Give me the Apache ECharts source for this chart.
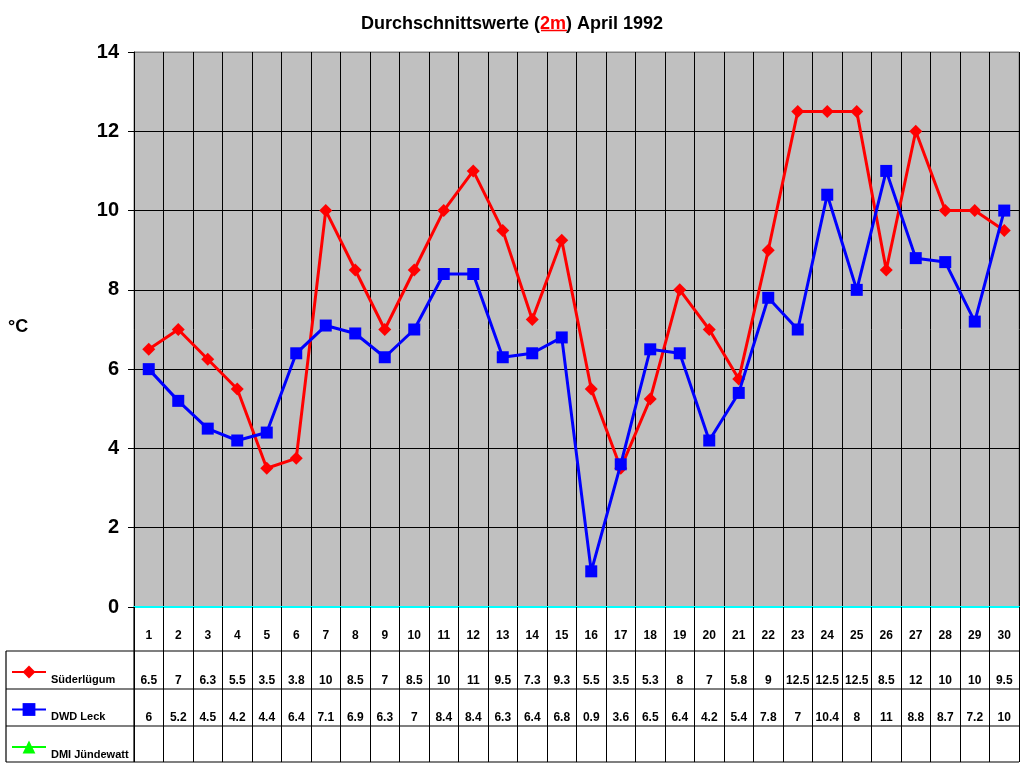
<!DOCTYPE html>
<html>
<head>
<meta charset="utf-8">
<script src="https://cdn.jsdelivr.net/npm/echarts@6/dist/echarts.min.js"></script>
<style>
  html, body { margin: 0; padding: 0; background: #fff; }
  #chart { width: 1024px; height: 768px; }
</style>
</head>
<body>
<div id="chart"></div>
<script>
// days of April 1992
var days = [];
for (var d = 1; d <= 30; d++) days.push(String(d));

var seriesNames = ['Süderlügum', 'DWD Leck', 'DMI Jündewatt'];

// daily means 2m (°C)
var suederluegum = [6.5, 7, 6.25, 5.5, 3.5, 3.75, 10, 8.5, 7, 8.5,
                    10, 11, 9.5, 7.25, 9.25, 5.5, 3.5, 5.25, 8, 7,
                    5.75, 9, 12.5, 12.5, 12.5, 8.5, 12, 10, 10, 9.5];
var dwdLeck = [6, 5.2, 4.5, 4.2, 4.4, 6.4, 7.1, 6.9, 6.3, 7,
               8.4, 8.4, 6.3, 6.4, 6.8, 0.9, 3.6, 6.5, 6.4, 4.2,
               5.4, 7.8, 7, 10.4, 8, 11, 8.8, 8.7, 7.2, 10];
var dmiJuendewatt = [];

function fmt(v) {
    if (v == null) return ' ';
    return String(parseFloat(v.toFixed(1)));
}

var chart = echarts.init(document.getElementById('chart'));

var option = {
    animation: false,
    title: {
        text: '{a|Durchschnittswerte (}{r|2m}{a|) April 1992}',
        left: 'center',
        top: 10,
        textStyle: {
            rich: {
                a: { fontFamily: 'Arial', fontWeight: 'bold', fontSize: 18, color: '#000' },
                r: { fontFamily: 'Arial', fontWeight: 'bold', fontSize: 18, color: '#ff0000' }
            }
        }
    },
    legend: {
        orient: 'vertical',
        left: 11,
        top: 657,
        padding: 0,
        itemGap: 7.5,
        itemWidth: 34,
        itemHeight: 16,
        data: seriesNames,
        // blank first line pushes the name below the icon, like the table legend
        formatter: function (name) { return ' \n' + name; },
        textStyle: {
            fontFamily: 'Arial',
            fontWeight: 'bold',
            fontSize: 11,
            lineHeight: 15,
            color: '#000'
        }
    },
    grid: {
        left: 134,
        right: 5,
        top: 52,
        bottom: 161,
        show: true,
        backgroundColor: '#c0c0c0',
        borderColor: '#808080',
        borderWidth: 1
    },
    xAxis: {
        type: 'category',
        data: days,
        boundaryGap: true,
        axisLine: { show: true, lineStyle: { color: '#00ffff', width: 2 } },
        axisTick: {
            show: true,
            interval: 0,
            length: 155,
            lineStyle: { color: '#000', width: 1 }
        },
        splitLine: {
            show: true,
            interval: 0,
            lineStyle: { color: '#000', width: 1 }
        },
        axisLabel: {
            interval: 0,
            margin: 8,
            verticalAlign: 'top',
            formatter: function (val, idx) {
                return '{d|' + val + '}\n{s|' + fmt(suederluegum[idx]) + '}\n{l|' + fmt(dwdLeck[idx]) + '}';
            },
            rich: {
                d: { fontFamily: 'Arial', fontWeight: 'bold', fontSize: 12, color: '#000', lineHeight: 42 },
                s: { fontFamily: 'Arial', fontWeight: 'bold', fontSize: 12, color: '#000', lineHeight: 48 },
                l: { fontFamily: 'Arial', fontWeight: 'bold', fontSize: 12, color: '#000', lineHeight: 26 }
            }
        }
    },
    yAxis: {
        type: 'value',
        min: 0,
        max: 14,
        interval: 2,
        axisLine: { show: true, lineStyle: { color: '#000', width: 1 } },
        axisTick: { show: true, length: 6, lineStyle: { color: '#000' } },
        splitLine: {
            show: true,
            lineStyle: {
                color: ['#000', '#000', '#000', '#000', '#000', '#000', '#000', '#808080'],
                width: 1
            }
        },
        axisLabel: {
            margin: 15,
            fontFamily: 'Arial',
            fontWeight: 'bold',
            fontSize: 20,
            color: '#000'
        }
    },
    graphic: [
        {
            type: 'text',
            left: 8,
            top: 318,
            style: { text: '°C', fontFamily: 'Arial', fontWeight: 'bold', fontSize: 18, fill: '#000' }
        },
        {
            type: 'line',
            shape: { x1: 541, y1: 30.5, x2: 567, y2: 30.5 },
            style: { stroke: '#ff0000', lineWidth: 1.5 }
        },
        { type: 'line', shape: { x1: 6, y1: 651, x2: 1019, y2: 651 }, style: { stroke: '#000', lineWidth: 1.2 } },
        { type: 'line', shape: { x1: 6, y1: 689, x2: 1019, y2: 689 }, style: { stroke: '#000', lineWidth: 1.2 } },
        { type: 'line', shape: { x1: 6, y1: 726, x2: 1019, y2: 726 }, style: { stroke: '#000', lineWidth: 1.2 } },
        { type: 'line', shape: { x1: 6, y1: 762, x2: 1019, y2: 762 }, style: { stroke: '#000', lineWidth: 1.2 } },
        { type: 'line', shape: { x1: 6, y1: 651, x2: 6, y2: 762 }, style: { stroke: '#000', lineWidth: 1.2 } },
        { type: 'line', shape: { x1: 134, y1: 607, x2: 134, y2: 762 }, style: { stroke: '#000', lineWidth: 1.2 } }
    ],
    series: [
        {
            name: seriesNames[0],
            type: 'line',
            data: suederluegum,
            symbol: 'diamond',
            symbolSize: 13,
            lineStyle: { color: '#ff0000', width: 3 },
            itemStyle: { color: '#ff0000' },
            z: 3
        },
        {
            name: seriesNames[1],
            type: 'line',
            data: dwdLeck,
            symbol: 'rect',
            symbolSize: 12,
            lineStyle: { color: '#0000ff', width: 3 },
            itemStyle: { color: '#0000ff' },
            z: 4
        },
        {
            name: seriesNames[2],
            type: 'line',
            data: dmiJuendewatt,
            symbol: 'triangle',
            symbolSize: 13,
            lineStyle: { color: '#00ff00', width: 3 },
            itemStyle: { color: '#00ff00' }
        }
    ]
};

chart.setOption(option);
</script>
</body>
</html>
